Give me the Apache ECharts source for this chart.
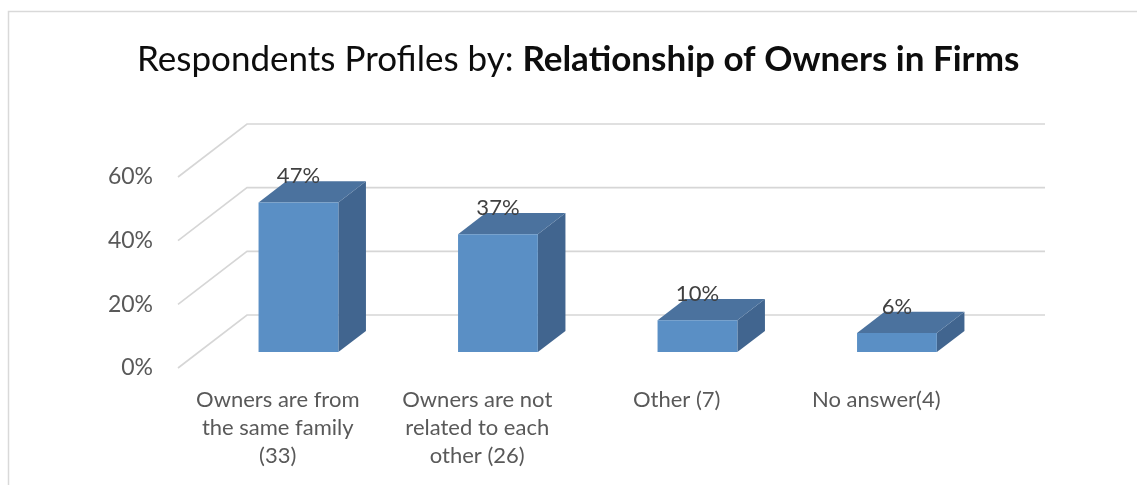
<!DOCTYPE html>
<html>
<head>
<meta charset="utf-8">
<script src="https://cdn.jsdelivr.net/npm/echarts@6/dist/echarts.min.js"></script>
<style>
  html, body { margin: 0; padding: 0; background: #ffffff; }
  #chart { width: 1137px; height: 485px; }
</style>
</head>
<body>
<div id="chart"></div>
<script>
// Survey answers: how the owners of each firm are related
var categories = [
  'Owners are from\nthe same family\n(33)',
  'Owners are not\nrelated to each\nother (26)',
  'Other (7)',
  'No answer(4)'
];
var shares = [47, 37, 10, 6];          // percent of respondents
var yTicks = [0, 20, 40, 60];          // percent gridlines on the walls

// Pseudo-3D look: receding depth vector of the floor/walls (pixels)
var DEPTH = [69, -53];
var BAR_FRONT = 0.3, BAR_BACK = 0.7;   // bar slab position within the depth
var BAR_RATIO = 0.4;                   // bar width relative to the category band

var FONT = 'Lato, "Open Sans", sans-serif';

var chart = echarts.init(document.getElementById('chart'));

function renderWall(params, api) {
  var cs = params.coordSys;
  var y = api.coord([0, api.value(1)])[1];
  var x0 = cs.x;
  return {
    type: 'polyline',
    shape: {
      points: [
        [x0, y],
        [x0 + DEPTH[0], y + DEPTH[1]],
        [x0 + cs.width + DEPTH[0], y + DEPTH[1]]
      ]
    },
    style: { stroke: '#d6d6d6', lineWidth: 1.6, fill: null }
  };
}

function renderBar(params, api) {
  var idx = api.value(0);
  var v = api.value(1);
  var base = api.coord([idx, 0]);
  var top = api.coord([idx, v]);
  var bw = api.size([1, 0])[0] * BAR_RATIO;
  var fx = DEPTH[0] * BAR_FRONT, fy = DEPTH[1] * BAR_FRONT;
  var dx = DEPTH[0] * (BAR_BACK - BAR_FRONT), dy = DEPTH[1] * (BAR_BACK - BAR_FRONT);
  var x0 = base[0] - bw / 2 + fx, x1 = x0 + bw;
  var yb = base[1] + fy, yt = top[1] + fy;
  return {
    type: 'group',
    children: [
      {
        type: 'polygon',
        shape: { points: [[x1, yt], [x1 + dx, yt + dy], [x1 + dx, yb + dy], [x1, yb]] },
        style: { fill: '#41658f' }
      },
      {
        type: 'polygon',
        shape: { points: [[x0, yt], [x1, yt], [x1 + dx, yt + dy], [x0 + dx, yt + dy]] },
        style: { fill: '#4b729e' }
      },
      {
        type: 'rect',
        shape: { x: x0, y: yt, width: bw, height: yb - yt },
        style: { fill: '#5a8fc5' }
      },
      {
        type: 'text',
        style: {
          text: v + '%',
          x: base[0] + fx,
          y: top[1] + DEPTH[1] * BAR_BACK - 5,
          align: 'center',
          verticalAlign: 'middle',
          fill: '#404040',
          font: '22px ' + FONT
        },
        z2: 10
      }
    ]
  };
}

chart.setOption({
  animation: false,
  backgroundColor: '#ffffff',
  graphic: [{
    type: 'rect',
    shape: { x: 8.5, y: 11.5, width: 1140, height: 480 },
    style: { fill: null, stroke: '#d9d9d9', lineWidth: 1.5 },
    silent: true
  }],
  title: {
    text: '{a|Respondents Profiles by: }{b|Relationship of Owners in Firms}',
    left: 132,
    top: 37,
    textStyle: {
      rich: {
        a: { fontFamily: FONT, fontSize: 35, color: '#0d0d0d', fontWeight: 'normal' },
        b: { fontFamily: FONT, fontSize: 35, color: '#0d0d0d', fontWeight: 'bold' }
      }
    }
  },
  grid: { left: 178, right: 161, top: 177, bottom: 117 },
  xAxis: {
    type: 'category',
    data: categories,
    axisLine: { show: false },
    axisTick: { show: false },
    axisLabel: {
      interval: 0,
      margin: 18,
      color: '#595959',
      fontFamily: FONT,
      fontSize: 22,
      lineHeight: 28
    }
  },
  yAxis: {
    type: 'value',
    min: 0,
    max: 60,
    interval: 20,
    axisLine: { show: false },
    axisTick: { show: false },
    splitLine: { show: false },
    axisLabel: {
      margin: 25,
      color: '#595959',
      fontFamily: FONT,
      fontSize: 23,
      formatter: '{value}%'
    }
  },
  series: [
    {
      type: 'custom',
      renderItem: renderWall,
      data: yTicks.map(function (t) { return [0, t]; }),
      silent: true,
      z: 1
    },
    {
      type: 'custom',
      renderItem: renderBar,
      data: shares.map(function (s, i) { return [i, s]; }),
      z: 2
    }
  ]
});
</script>
</body>
</html>
